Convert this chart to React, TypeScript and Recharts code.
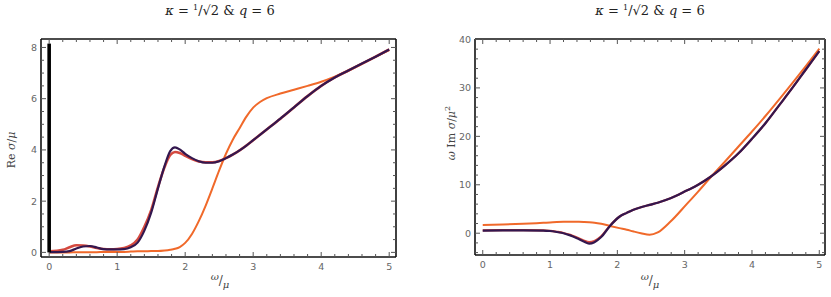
import React from 'react';
import { LineChart, Line, XAxis, YAxis, ReferenceLine } from 'recharts';

// ---- left panel: Re sigma / mu ----
const OMEGA_RE = [0, 0.2, 0.3, 0.4, 0.5, 0.6, 0.7, 0.8, 0.9, 1.0, 1.1, 1.2, 1.3, 1.4, 1.5, 1.6, 1.7, 1.78, 1.85, 1.92, 2.0, 2.1, 2.2, 2.3, 2.4, 2.5, 2.6, 2.7, 2.8, 2.9, 3.0, 3.1, 3.2, 3.4, 3.6, 3.8, 4.0, 4.2, 4.4, 4.6, 4.8, 5.0];
const RE_PURPLE = [0.01, 0.02, 0.05, 0.15, 0.23, 0.25, 0.19, 0.13, 0.12, 0.12, 0.13, 0.2, 0.38, 0.85, 1.55, 2.5, 3.4, 3.95, 4.1, 4.02, 3.85, 3.68, 3.56, 3.5, 3.5, 3.56, 3.68, 3.82, 3.98, 4.17, 4.38, 4.59, 4.8, 5.22, 5.66, 6.1, 6.5, 6.83, 7.1, 7.37, 7.64, 7.92];
const RE_RED = [0.04, 0.1, 0.2, 0.28, 0.27, 0.23, 0.17, 0.13, 0.12, 0.13, 0.17, 0.27, 0.5, 1.0, 1.65, 2.55, 3.35, 3.8, 3.92, 3.88, 3.77, 3.64, 3.55, 3.52, 3.52, 3.57, 3.68, 3.82, 3.98, 4.17, 4.38, 4.59, 4.8, 5.22, 5.66, 6.1, 6.5, 6.83, 7.1, 7.37, 7.64, 7.92];
const RE_ORANGE = [0.0, 0.0, 0.0, 0.01, 0.01, 0.01, 0.01, 0.02, 0.02, 0.02, 0.02, 0.03, 0.04, 0.04, 0.05, 0.05, 0.07, 0.1, 0.14, 0.21, 0.37, 0.72, 1.22, 1.82, 2.5, 3.2, 3.85, 4.4, 4.85, 5.3, 5.65, 5.87, 6.02, 6.2, 6.35, 6.5, 6.66, 6.86, 7.09, 7.36, 7.63, 7.9];
const DELTA_PEAK = [{ x: 0, y: 0 }, { x: 0, y: 8.15 }];

// ---- right panel: omega Im sigma / mu^2 ----
const OMEGA_IM = [0, 0.3, 0.6, 0.9, 1.0, 1.1, 1.2, 1.3, 1.4, 1.5, 1.58, 1.66, 1.76, 1.89, 2.03, 2.14, 2.23, 2.35, 2.48, 2.6, 2.79, 3.03, 3.2, 3.37, 3.6, 3.8, 4.0, 4.2, 4.42, 4.6, 4.8, 5.0];
const IM_PURPLE = [0.55, 0.57, 0.6, 0.55, 0.45, 0.25, 0.0, -0.45, -1.04, -1.7, -2.15, -1.85, -0.8, 1.5, 3.4, 4.2, 4.8, 5.35, 5.85, 6.3, 7.2, 8.8, 10.0, 11.5, 14.0, 16.5, 19.5, 22.7, 26.7, 30.0, 33.8, 37.6];
const IM_RED = [0.6, 0.62, 0.65, 0.6, 0.5, 0.3, 0.05, -0.35, -0.9, -1.5, -1.85, -1.6, -0.65, 1.55, 3.4, 4.2, 4.8, 5.35, 5.85, 6.3, 7.2, 8.8, 10.0, 11.5, 14.0, 16.5, 19.5, 22.7, 26.7, 30.0, 33.8, 37.6];
const IM_ORANGE = [1.72, 1.8, 1.95, 2.15, 2.22, 2.3, 2.35, 2.38, 2.36, 2.32, 2.27, 2.18, 1.95, 1.5, 1.05, 0.72, 0.4, 0.0, -0.33, 0.15, 2.4, 6.0, 8.6, 11.3, 14.8, 17.9, 21.0, 24.2, 27.9, 31.0, 34.5, 38.1];

// ticks (majors get labels)
const X_TICKS = [0, 0.2, 0.4, 0.6, 0.8, 1, 1.2, 1.4, 1.6, 1.8, 2, 2.2, 2.4, 2.6, 2.8, 3, 3.2, 3.4, 3.6, 3.8, 4, 4.2, 4.4, 4.6, 4.8, 5];
const X_MAJOR = [0, 1, 2, 3, 4, 5];
const Y_RE_TICKS = [0, 0.5, 1, 1.5, 2, 2.5, 3, 3.5, 4, 4.5, 5, 5.5, 6, 6.5, 7, 7.5, 8];
const Y_RE_MAJOR = [0, 2, 4, 6, 8];
const Y_IM_TICKS = [-4, -2, 0, 2, 4, 6, 8, 10, 12, 14, 16, 18, 20, 22, 24, 26, 28, 30, 32, 34, 36, 38, 40];
const Y_IM_MAJOR = [0, 10, 20, 30, 40];

const PURPLE = '#33174f';
const RED = '#d4493f';
const ORANGE = '#f0692a';
const FRAME = '#111';
const TICK = '#555';
const LABEL = '#666';
const SANS = '"DejaVu Sans", Arial, sans-serif';
const SERIF = '"DejaVu Serif", serif';

const isMajor = (v: number, majors: number[]) => majors.some((m) => Math.abs(m - v) < 1e-9);

const makeTick = (side: 'bottom' | 'top' | 'left' | 'right', majors: number[], showLabel: boolean) => (props: any) => {
  const { x, y, payload } = props;
  const v = payload.value;
  const major = isMajor(v, majors);
  const len = major ? 5 : 3;
  let line;
  if (side === 'bottom') line = <line x1={x} x2={x} y1={y} y2={y - len} stroke={TICK} />;
  else if (side === 'top') line = <line x1={x} x2={x} y1={y} y2={y + len} stroke={TICK} />;
  else if (side === 'left') line = <line x1={x} x2={x + len} y1={y} y2={y} stroke={TICK} />;
  else line = <line x1={x} x2={x - len} y1={y} y2={y} stroke={TICK} />;
  return (
    <g>
      {line}
      {showLabel && major && side === 'bottom' && (
        <text x={x} y={y + 13} textAnchor="middle" fontSize={9.5} fill={LABEL} fontFamily={SANS}>
          {v}
        </text>
      )}
      {showLabel && major && side === 'left' && (
        <text x={x - 4} y={y + 3.5} textAnchor="end" fontSize={9.5} fill={LABEL} fontFamily={SANS}>
          {v}
        </text>
      )}
    </g>
  );
};

const Title = ({ cx }: { cx: number }) => (
  <div
    style={{
      position: 'absolute',
      left: cx - 100,
      top: 3,
      width: 200,
      textAlign: 'center',
      fontFamily: SERIF,
      fontSize: 13,
      color: '#222',
      whiteSpace: 'nowrap',
    }}
  >
    <i>κ</i> = <sup style={{ fontSize: 8 }}>1</sup>/√2 &amp; <i>q</i> = 6
  </div>
);

const XLabel = ({ cx }: { cx: number }) => (
  <div
    style={{
      position: 'absolute',
      left: cx - 40,
      top: 271,
      width: 80,
      textAlign: 'center',
      fontFamily: SERIF,
      fontSize: 12,
      color: '#444',
    }}
  >
    <sup style={{ fontSize: 10 }}>
      <i>ω</i>
    </sup>
    /<sub style={{ fontSize: 10 }}>
      <i>μ</i>
    </sub>
  </div>
);

const YLabel = ({ cx, cy, children }: { cx: number; cy: number; children: React.ReactNode }) => (
  <div
    style={{
      position: 'absolute',
      left: cx - 60,
      top: cy - 10,
      width: 120,
      height: 20,
      lineHeight: '20px',
      textAlign: 'center',
      fontFamily: SERIF,
      fontSize: 11,
      color: '#444',
      transform: 'rotate(-90deg)',
      whiteSpace: 'nowrap',
    }}
  >
    {children}
  </div>
);

const reData = OMEGA_RE.map((w, i) => ({ w, purple: RE_PURPLE[i], red: RE_RED[i], orange: RE_ORANGE[i] }));
const imData = OMEGA_IM.map((w, i) => ({ w, purple: IM_PURPLE[i], red: IM_RED[i], orange: IM_ORANGE[i] }));

const frameLine = { stroke: FRAME, strokeWidth: 1.6 };

const Frame = ({ xDomain, yDomain, yTicks, yMajor }: any) => [
  <XAxis
    key="xb"
    xAxisId="b"
    dataKey="w"
    type="number"
    domain={xDomain}
    allowDataOverflow
    ticks={X_TICKS}
    interval={0}
    height={1}
    tickSize={0}
    tickMargin={0}
    tickLine={false}
    axisLine={frameLine}
    tick={makeTick('bottom', X_MAJOR, true)}
  />,
  <XAxis
    key="xt"
    xAxisId="t"
    orientation="top"
    dataKey="w"
    type="number"
    domain={xDomain}
    allowDataOverflow
    ticks={X_TICKS}
    interval={0}
    height={1}
    tickSize={0}
    tickMargin={0}
    tickLine={false}
    axisLine={frameLine}
    tick={makeTick('top', X_MAJOR, false)}
  />,
  <YAxis
    key="yl"
    yAxisId="l"
    type="number"
    domain={yDomain}
    allowDataOverflow
    ticks={yTicks}
    interval={0}
    width={1}
    tickSize={0}
    tickMargin={0}
    tickLine={false}
    axisLine={frameLine}
    tick={makeTick('left', yMajor, true)}
  />,
  <YAxis
    key="yr"
    yAxisId="r"
    orientation="right"
    type="number"
    domain={yDomain}
    allowDataOverflow
    ticks={yTicks}
    interval={0}
    width={1}
    tickSize={0}
    tickMargin={0}
    tickLine={false}
    axisLine={frameLine}
    tick={makeTick('right', yMajor, false)}
  />,
];

const App: React.FC = () => {
  const reX = [-0.12, 5.1];
  const reY = [-0.18, 8.33];
  const imX = [-0.115, 5.085];
  const imY = [-4.5, 40.1];

  return (
    <div style={{ position: 'absolute', left: 0, top: 0, width: 831, height: 297, background: '#fff', overflow: 'hidden' }}>
      <Title cx={220} />
      <Title cx={650} />

      <div style={{ position: 'absolute', left: 0, top: 0 }}>
        <LineChart width={420} height={297} data={reData} margin={{ top: 38, right: 23, bottom: 39, left: 40 }}>
          {Frame({ xDomain: reX, yDomain: reY, yTicks: Y_RE_TICKS, yMajor: Y_RE_MAJOR })}
          <Line xAxisId="b" yAxisId="l" type="monotone" dataKey="orange" stroke={ORANGE} strokeWidth={2} dot={false} isAnimationActive={false} />
          <Line xAxisId="b" yAxisId="l" type="monotone" dataKey="red" stroke={RED} strokeWidth={2.6} dot={false} isAnimationActive={false} />
          <Line xAxisId="b" yAxisId="l" type="monotone" dataKey="purple" stroke={PURPLE} strokeWidth={2.2} dot={false} isAnimationActive={false} />
          <ReferenceLine xAxisId="b" yAxisId="l" segment={DELTA_PEAK} stroke="#000" strokeWidth={3.6} ifOverflow="visible" />
        </LineChart>
      </div>

      <div style={{ position: 'absolute', left: 420, top: 0 }}>
        <LineChart width={411} height={297} data={imData} margin={{ top: 38, right: 5, bottom: 41, left: 54 }}>
          {Frame({ xDomain: imX, yDomain: imY, yTicks: Y_IM_TICKS, yMajor: Y_IM_MAJOR })}
          <Line xAxisId="b" yAxisId="l" type="monotone" dataKey="orange" stroke={ORANGE} strokeWidth={2} dot={false} isAnimationActive={false} />
          <Line xAxisId="b" yAxisId="l" type="monotone" dataKey="red" stroke={RED} strokeWidth={2.2} dot={false} isAnimationActive={false} />
          <Line xAxisId="b" yAxisId="l" type="monotone" dataKey="purple" stroke={PURPLE} strokeWidth={2.2} dot={false} isAnimationActive={false} />
        </LineChart>
      </div>

      <XLabel cx={220} />
      <XLabel cx={650} />
      <YLabel cx={12} cy={150}>
        Re <i>σ</i>/<i>μ</i>
      </YLabel>
      <YLabel cx={448} cy={133}>
        <i>ω</i> Im <i>σ</i>/<i>μ</i>
        <sup style={{ fontSize: 8 }}>2</sup>
      </YLabel>
    </div>
  );
};

export default App;
